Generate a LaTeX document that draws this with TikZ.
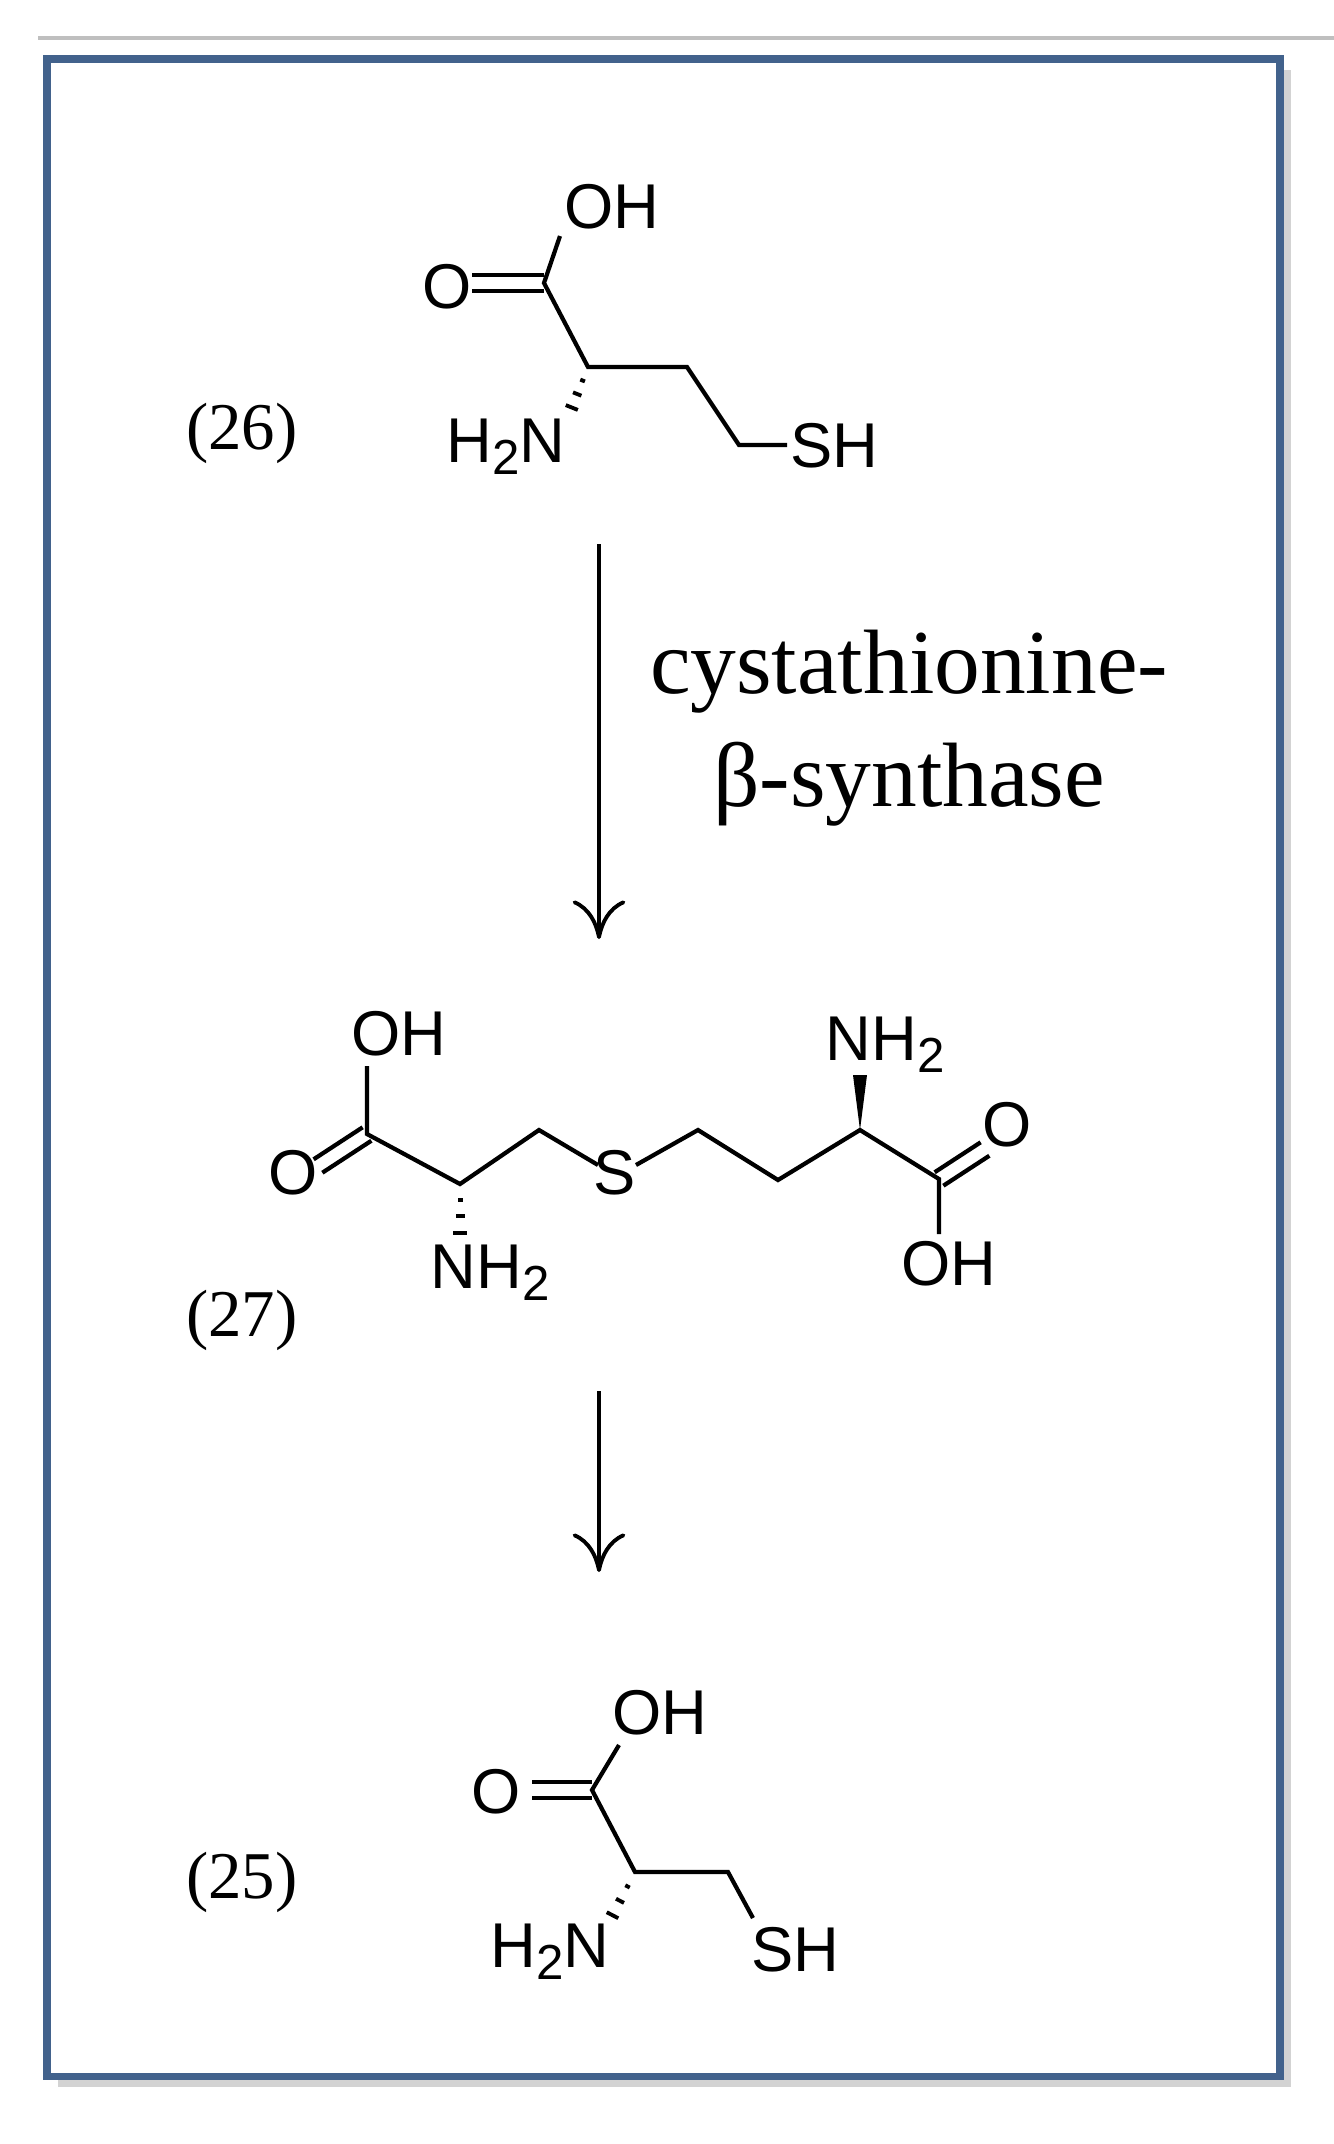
\documentclass[tikz,border=0pt]{standalone}
\usepackage{fontspec}
\setmainfont{Liberation Serif}
\newfontfamily\atomfont{Liberation Sans}
\usetikzlibrary{calc,arrows.meta,shadows}
\definecolor{framblue}{RGB}{66,98,140}
\tikzset
{
    atom/.style  = {inner sep=0pt, font=\atomfont\fontsize{18}{18}\selectfont},
    cpdlabel/.style = {inner sep=0pt, font=\fontsize{19}{19}\selectfont},
    enzyme/.style = {inner sep=0pt, align=center, font=\fontsize{26}{32}\selectfont},
    bond/.style  = {line width=1.2pt},
    rxnarrow/.style = {line width=1.1pt, -{To[length=11pt,width=15pt]}}
}
\newcommand\sub[1]{\raisebox{-0.35ex}{\fontsize{14}{14}\selectfont #1}}
% double bond between two named coordinates
\newcommand\dbond[2]{%
  \draw[bond] ($(#1)!0.08cm!90:(#2)$) -- ($(#2)!0.08cm!-90:(#1)$);
  \draw[bond] ($(#1)!0.08cm!-90:(#2)$) -- ($(#2)!0.08cm!90:(#1)$);}
% hashed bond, narrow at #1
\newcommand\hbond[2]{%
  \foreach \t/\w in {0.3/0.025,0.6/0.045,0.9/0.065}
    \draw[line width=1.1pt] ($($(#1)!\t!(#2)$)!\w cm!90:(#2)$) -- ($($(#1)!\t!(#2)$)!\w cm!-90:(#2)$);}
% wedge bond, narrow at #1
\newcommand\wbond[2]{%
  \fill (#1) -- ($(#2)!0.07cm!90:(#1)$) -- ($(#2)!0.07cm!-90:(#1)$) -- cycle;}

\begin{document}
\begin{tikzpicture}[x=0.01cm, y=-0.01cm]
\useasboundingbox (0,0) rectangle (1334,2144);
\draw[gray!50, line width=1.2pt] (38,38) -- (1334,38);
\draw[framblue, line width=2pt, fill=white, drop shadow={shadow xshift=3pt, shadow yshift=-3pt, opacity=0.35}] (47,59) rectangle (1280,2076);

% (26)
\node (l26) [cpdlabel] at (242,433) {(26)};
\coordinate (a1) at (544,283);
\coordinate (a1o) at (472,283);
\coordinate (a1oh) at (560,236);
\coordinate (a1ca) at (588,367);
\coordinate (a1c2) at (687,367);
\coordinate (a1c3) at (739,445);
\coordinate (a1s) at (787,445);
\coordinate (a1n) at (570,412);
\node (o26) [atom] at (447,287) {O};
\node (oh26) [atom] at (612,207) {OH};
\node (sh26) [atom, anchor=west] at (790,446) {SH};
\node (n26) [atom] at (506,447) {H\sub{2}N};
\dbond{a1}{a1o}
\draw[bond] (a1oh) -- (a1) -- (a1ca) -- (a1c2) -- (a1c3) -- (a1s);
\hbond{a1ca}{a1n}

% first step
\coordinate (r1s) at (599,544);
\coordinate (r1e) at (599,939);
\draw[rxnarrow] (r1s) -- (r1e);
\node (enz) [enzyme] at (909,728) {cystathionine-\\β-synthase};

% (27)
\node (l27) [cpdlabel] at (242,1320) {(27)};
\coordinate (b1) at (367,1134);
\coordinate (b1oh) at (367,1066);
\coordinate (b1o) at (318,1166);
\coordinate (b1ca) at (460,1184);
\coordinate (b1n) at (460,1238);
\coordinate (b2) at (539,1130);
\coordinate (b3) at (598,1165);
\coordinate (b4) at (636,1165);
\coordinate (b5) at (698,1130);
\coordinate (b6) at (778,1180);
\coordinate (b7) at (860,1130);
\coordinate (b7n) at (860,1075);
\coordinate (b8) at (939,1179);
\coordinate (b8o) at (985,1149);
\coordinate (b8oh) at (939,1234);
\node (oh27a) [atom] at (399,1034) {OH};
\node (o27a) [atom] at (293,1173) {O};
\node (s27) [atom] at (615,1173) {S};
\node (n27a) [atom] at (490,1273) {NH\sub{2}};
\node (n27b) [atom] at (885,1045) {NH\sub{2}};
\node (o27b) [atom] at (1007,1125) {O};
\node (oh27b) [atom] at (949,1264) {OH};
\dbond{b1}{b1o}
\dbond{b8}{b8o}
\draw[bond] (b1oh) -- (b1) -- (b1ca) -- (b2) -- (b3);
\draw[bond] (b4) -- (b5) -- (b6) -- (b7) -- (b8) -- (b8oh);
\hbond{b1ca}{b1n}
\wbond{b7}{b7n}

% second step
\coordinate (r2s) at (599,1391);
\coordinate (r2e) at (599,1572);
\draw[rxnarrow] (r2s) -- (r2e);

% (25)
\node (l25) [cpdlabel] at (242,1882) {(25)};
\coordinate (c1) at (592,1790);
\coordinate (c1o) at (532,1790);
\coordinate (c1oh) at (619,1745);
\coordinate (c1ca) at (635,1872);
\coordinate (c1c2) at (728,1872);
\coordinate (c1s) at (753,1918);
\coordinate (c1n) at (610,1920);
\node (o25) [atom] at (496,1792) {O};
\node (oh25) [atom] at (660,1713) {OH};
\node (sh25) [atom] at (795,1950) {SH};
\node (n25) [atom] at (550,1952) {H\sub{2}N};
\dbond{c1}{c1o}
\draw[bond] (c1oh) -- (c1) -- (c1ca) -- (c1c2) -- (c1s);
\hbond{c1ca}{c1n}
\end{tikzpicture}
\end{document}
